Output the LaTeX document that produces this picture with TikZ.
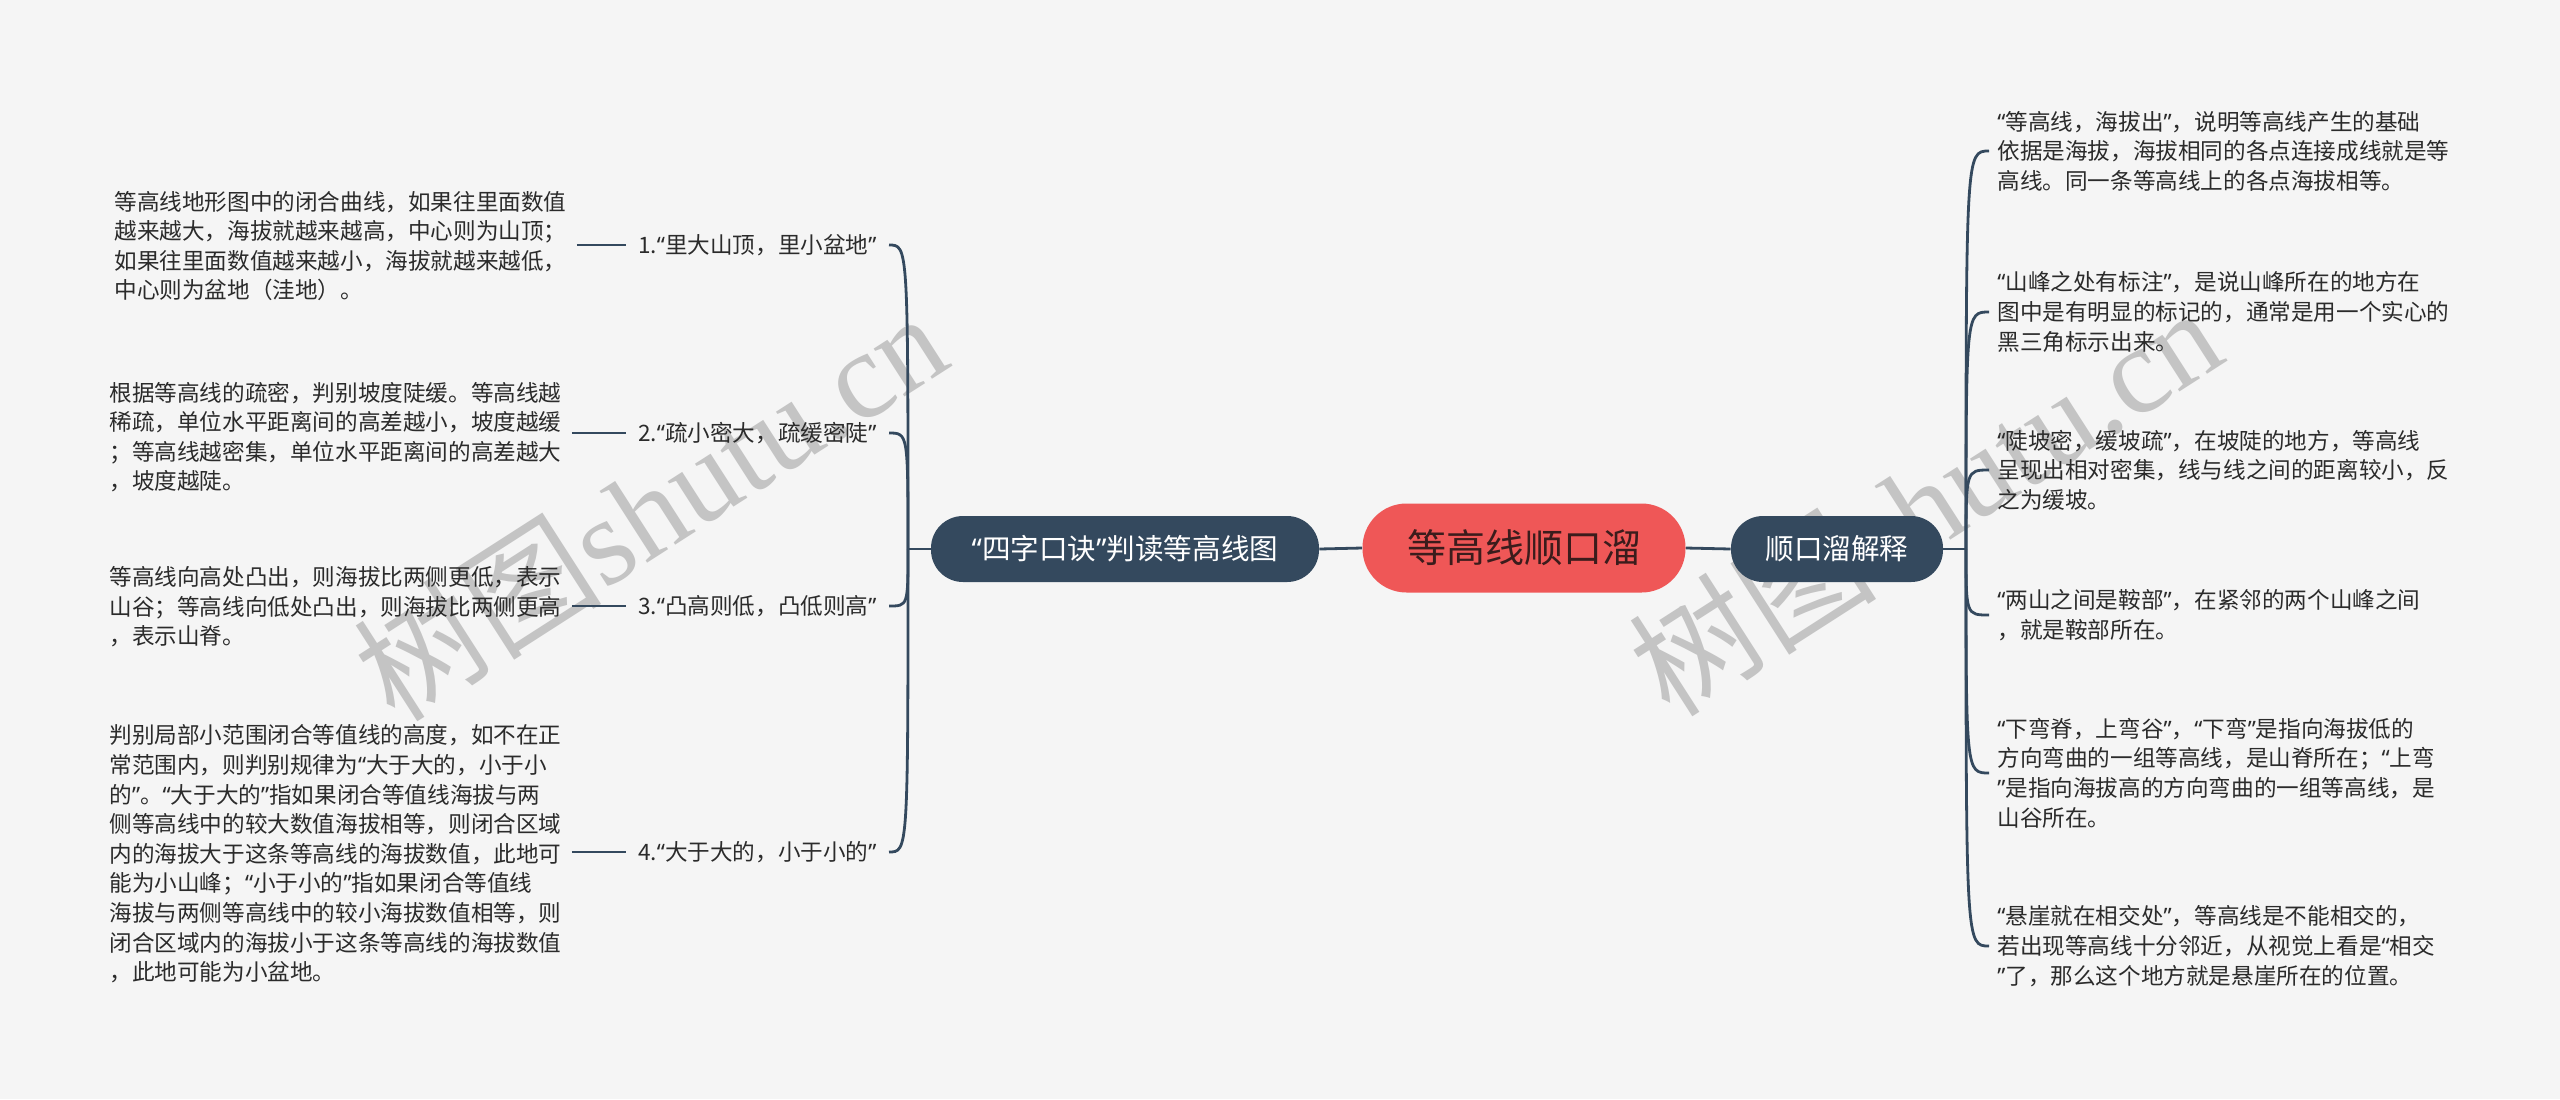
\documentclass[tikz,border=0pt]{standalone}
\usepackage{fontspec}
\setmainfont{Noto Sans CJK SC}
\newfontfamily\wmlatin{Liberation Serif}
\newfontfamily\wmcjk{Noto Sans CJK SC}
\newfontfamily\qfont{Noto Sans}
\newcommand\oq{{\qfont “}}
\newcommand\cq{{\qfont ”}}
\definecolor{bg}{HTML}{F5F5F5}
\definecolor{navy}{HTML}{34495E}
\definecolor{rootred}{HTML}{EF5757}
\definecolor{roottxt}{HTML}{3B1C1C}
\definecolor{txt}{HTML}{2B2B2B}
\definecolor{wm}{HTML}{C4C4C4}
\tikzset{
  desc/.style={align=left, inner xsep=5pt, inner ysep=0pt, text=txt,
    font=\fontsize{11.3pt}{14.8pt}\selectfont},
  lab/.style={inner xsep=6pt, inner ysep=0pt, text=txt,
    font=\fontsize{11.3pt}{14.8pt}\selectfont},
  topic/.style={fill=navy, text=white, rounded corners=16pt, minimum height=33pt,
    inner sep=0pt, font=\fontsize{14.3pt}{17pt}\selectfont},
  root/.style={fill=rootred, text=roottxt, rounded corners=22pt, minimum width=161.5pt,
    minimum height=44.5pt, inner sep=0pt, font=\fontsize{19.5pt}{23pt}\selectfont},
  conn/.style={draw=navy, line width=1.4pt},
  wmark/.style={text=wm, rotate=32.7, inner sep=0pt, font=\fontsize{62pt}{62pt}\selectfont},
}
\begin{document}
\begin{tikzpicture}[x=0.5pt, y=-0.5pt]
\fill[bg] (0,0) rectangle (2560,1099);
\useasboundingbox (0,0) rectangle (2560,1099);

% watermarks
\node[wmark] (wm1) at (650,505) {{\wmcjk 树图}{\wmlatin shutu.cn}};
\node[wmark] (wm2) at (1925,500) {{\wmcjk 树图}{\wmlatin shutu.cn}};

% central nodes
\node[root] (root) at (1524,548) {等高线顺口溜};
\node[topic, minimum width=194pt] (tl) at (1125,549) {\oq{}四字口诀\cq{}判读等高线图};
\node[topic, minimum width=106pt] (tr) at (1837,549) {顺口溜解释};

\draw[conn] (root.west) -- (tl.east);
\draw[conn] (root.east) -- (tr.west);

\coordinate (jl) at (908,549);
\coordinate (jr) at (1966,549);
\draw[conn] (tl.west) -- (jl);
\draw[conn] (tr.east) -- (jr);

% left labels
\node[lab, anchor=east] (l1) at (889,245) {1.\oq{}里大山顶，里小盆地\cq{}};
\node[lab, anchor=east] (l2) at (889,433) {2.\oq{}疏小密大，疏缓密陡\cq{}};
\node[lab, anchor=east] (l3) at (889,606) {3.\oq{}凸高则低，凸低则高\cq{}};
\node[lab, anchor=east] (l4) at (889,852) {4.\oq{}大于大的，小于小的\cq{}};

% left descriptions
\node[desc, anchor=west] (b1) at (104,246) {等高线地形图中的闭合曲线，如果往里面数值\\越来越大，海拔就越来越高，中心则为山顶；\\如果往里面数值越来越小，海拔就越来越低，\\中心则为盆地（洼地）。};
\node[desc, anchor=west] (b2) at (99,437) {根据等高线的疏密，判别坡度陡缓。等高线越\\稀疏，单位水平距离间的高差越小，坡度越缓\\；等高线越密集，单位水平距离间的高差越大\\，坡度越陡。};
\node[desc, anchor=west] (b3) at (99,607) {等高线向高处凸出，则海拔比两侧更低，表示\\山谷；等高线向低处凸出，则海拔比两侧更高\\，表示山脊。};
\node[desc, anchor=west] (b4) at (99,854) {判别局部小范围闭合等值线的高度，如不在正\\常范围内，则判别规律为\oq{}大于大的，小于小\\的\cq{}。\oq{}大于大的\cq{}指如果闭合等值线海拔与两\\侧等高线中的较大数值海拔相等，则闭合区域\\内的海拔大于这条等高线的海拔数值，此地可\\能为小山峰；\oq{}小于小的\cq{}指如果闭合等值线\\海拔与两侧等高线中的较小海拔数值相等，则\\闭合区域内的海拔小于这条等高线的海拔数值\\，此地可能为小盆地。};

\foreach \b/\l in {b1/l1,b2/l2,b3/l3,b4/l4}
  \draw[conn] (\b.east |- \l.west) -- (\l.west);
\foreach \l in {l1,l2,l3,l4}
  \draw[conn] (jl) .. controls (jl |- \l.east) .. (\l.east);

% right descriptions
\node[desc, anchor=west, inner xsep=4pt] (r1) at (1989,151) {\oq{}等高线，海拔出\cq{}，说明等高线产生的基础\\依据是海拔，海拔相同的各点连接成线就是等\\高线。同一条等高线上的各点海拔相等。};
\node[desc, anchor=west, inner xsep=4pt] (r2) at (1989,312) {\oq{}山峰之处有标注\cq{}，是说山峰所在的地方在\\图中是有明显的标记的，通常是用一个实心的\\黑三角标示出来。};
\node[desc, anchor=west, inner xsep=4pt] (r3) at (1989,470) {\oq{}陡坡密，缓坡疏\cq{}，在坡陡的地方，等高线\\呈现出相对密集，线与线之间的距离较小，反\\之为缓坡。};
\node[desc, anchor=west, inner xsep=4pt] (r4) at (1989,615) {\oq{}两山之间是鞍部\cq{}，在紧邻的两个山峰之间\\，就是鞍部所在。};
\node[desc, anchor=west, inner xsep=4pt] (r5) at (1989,773) {\oq{}下弯脊，上弯谷\cq{}，\oq{}下弯\cq{}是指向海拔低的\\方向弯曲的一组等高线，是山脊所在；\oq{}上弯\\\cq{}是指向海拔高的方向弯曲的一组等高线，是\\山谷所在。};
\node[desc, anchor=west, inner xsep=4pt] (r6) at (1989,946) {\oq{}悬崖就在相交处\cq{}，等高线是不能相交的，\\若出现等高线十分邻近，从视觉上看是\oq{}相交\\\cq{}了，那么这个地方就是悬崖所在的位置。};

\foreach \r in {r1,r2,r3,r4,r5,r6}
  \draw[conn] (jr) .. controls (jr |- \r.west) .. (\r.west);
\end{tikzpicture}
\end{document}
